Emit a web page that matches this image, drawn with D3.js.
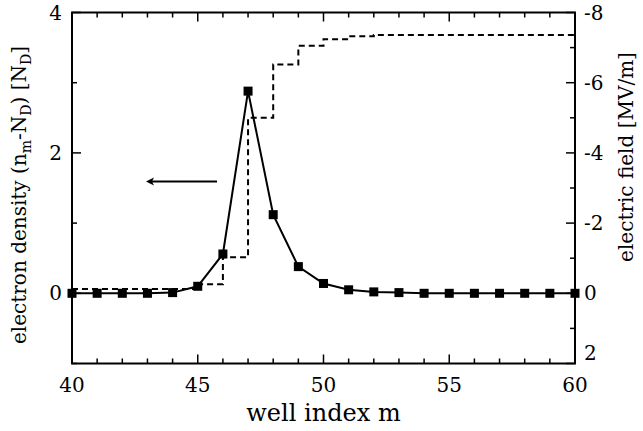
<!DOCTYPE html>
<html><head><meta charset="utf-8">
<script src="https://cdn.jsdelivr.net/npm/d3@7"></script>
<style>body{margin:0;background:#fff}svg{display:block}</style>
</head><body><svg id="c" width="643" height="431" font-family="'DejaVu Serif', 'Liberation Serif', serif"></svg>
<script>
const wells = d3.range(40, 61);
const density = [0,0,0,0,0.01,0.1,0.56,2.88,1.12,0.38,0.14,0.05,0.02,0.01,0,0,0,0,0,0,0];
const field = [-0.12,-0.12,-0.12,-0.12,-0.12,-0.26,-1.03,-5.0,-6.52,-7.05,-7.24,-7.32,-7.36,-7.36,-7.36,-7.36,-7.36,-7.36,-7.36,-7.36,-7.36];
const xTicks = [40,45,50,55,60];
const yLeftTicks = [4,2,0];
const yRightTicks = [-8,-6,-4,-2,0,2];

const svg = d3.select("#c");
const L=72, R=575, T=12.5, B=363.5;
const x = d3.scaleLinear().domain([40,60]).range([L,R]);
const yL = d3.scaleLinear().domain([-1,4]).range([B,T]);
const yR = d3.scaleLinear().domain([2,-8]).range([B,T]);

const g = svg.append("g").attr("stroke","#000").attr("stroke-width",1.5);
d3.range(40,61).forEach(v=>{
  const len = v%5===0?9:5;
  g.append("line").attr("x1",x(v)).attr("x2",x(v)).attr("y1",B).attr("y2",B-len);
  g.append("line").attr("x1",x(v)).attr("x2",x(v)).attr("y1",T).attr("y2",T+len);
});
d3.range(-1,5).forEach(v=>{
  const len = v%2===0?9:5;
  g.append("line").attr("x1",L).attr("x2",L+len).attr("y1",yL(v)).attr("y2",yL(v));
});
d3.range(-8,3).forEach(v=>{
  const len = v%2===0?9:5;
  g.append("line").attr("x1",R).attr("x2",R-len).attr("y1",yR(v)).attr("y2",yR(v));
});

xTicks.forEach(v=>svg.append("text").attr("x",x(v)).attr("y",392).attr("text-anchor","middle").attr("font-size",20).text(v));
yLeftTicks.forEach(v=>svg.append("text").attr("x",62).attr("y",yL(v)+7).attr("text-anchor","end").attr("font-size",20).text(v));
yRightTicks.forEach(v=>svg.append("text").attr("x",584).attr("y",yR(v)+(v===2?-4:7)).attr("text-anchor","start").attr("font-size",20).text(v));

svg.append("path").datum(wells.map((m,i)=>[m,field[i]]))
  .attr("fill","none").attr("stroke","#000").attr("stroke-width",2).attr("stroke-dasharray","6,4")
  .attr("d", d3.line().x(d=>x(d[0])).y(d=>yR(d[1])).curve(d3.curveStepAfter));

svg.append("path").datum(wells.map((m,i)=>[m,density[i]]))
  .attr("fill","none").attr("stroke","#000").attr("stroke-width",2)
  .attr("d", d3.line().x(d=>x(d[0])).y(d=>yL(d[1])));
svg.selectAll("rect.m").data(wells.map((m,i)=>[m,density[i]])).enter().append("rect")
  .attr("x",d=>x(d[0])-4.5).attr("y",d=>yL(d[1])-4.5).attr("width",9).attr("height",9).attr("fill","#000");

svg.append("rect").attr("x",L).attr("y",T).attr("width",R-L).attr("height",B-T)
  .attr("fill","none").attr("stroke","#000").attr("stroke-width",2);

svg.append("line").attr("x1",217).attr("x2",152).attr("y1",181.5).attr("y2",181.5).attr("stroke","#000").attr("stroke-width",2);
svg.append("path").attr("d","M146,181.5 L154,177.5 L152,181.5 L154,185.5 Z").attr("fill","#000");

svg.append("text").attr("x",x(50)).attr("y",421).attr("text-anchor","middle").attr("font-size",24).text("well index m");
const yl = svg.append("text").attr("transform","translate(26,195) rotate(-90)").attr("text-anchor","middle").attr("font-size",20);
yl.append("tspan").text("electron density (n");
yl.append("tspan").attr("font-size",14).attr("dy",5).text("m");
yl.append("tspan").attr("dy",-5).text("-N");
yl.append("tspan").attr("font-size",14).attr("dy",5).text("D");
yl.append("tspan").attr("dy",-5).text(") [N");
yl.append("tspan").attr("font-size",14).attr("dy",5).text("D");
yl.append("tspan").attr("dy",-5).text("]");
svg.append("text").attr("transform","translate(633,157) rotate(-90)").attr("text-anchor","middle").attr("font-size",20).text("electric field [MV/m]");
</script></body></html>
